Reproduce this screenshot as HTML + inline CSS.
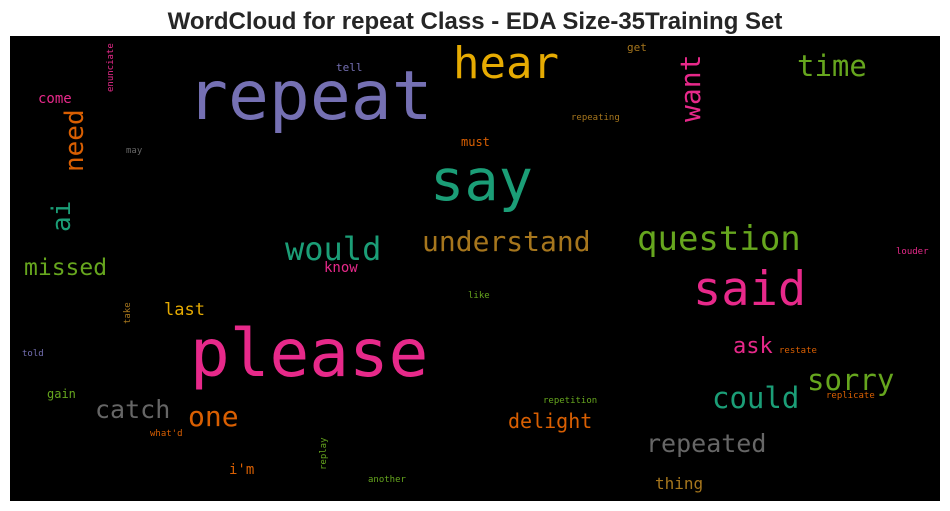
<!DOCTYPE html>
<html><head><meta charset="utf-8"><style>
html,body{margin:0;padding:0;background:#fff;width:950px;height:511px;overflow:hidden}
svg{display:block}
</style></head><body>
<svg id="chart" width="950" height="511" viewBox="0 0 950 511" xmlns="http://www.w3.org/2000/svg">
<text x="475" y="29" text-anchor="middle" font-family="Liberation Sans, sans-serif" font-weight="bold" font-size="24" fill="#262626">WordCloud for repeat Class - EDA Size-35Training Set</text>
<rect x="10" y="36" width="930" height="465" fill="#000"/>
<g id="words"></g>
</svg>
<script>
// word data
const words = ["repeat","please","say","hear","time","want","question","said","understand","would","missed","need","ai","come","enunciate","may","tell","get","repeating","must","know","like","louder","last","take","told","gain","catch","one","what'd","i'm","replay","another","ask","restate","sorry","could","replicate","repetition","delight","repeated","thing"];
const sizes = [68,66,57,44,29,28,34,47,28,32,23,26,26,14,9,9,11,11,9,12,14,9,9,17,9,9,12,25,28,9,14,9,9,22,9,29,29,9,9,20,25,16];
const colors = ["#7570b3","#e7298a","#1b9e77","#e6ab02","#66a61e","#e7298a","#66a61e","#e7298a","#a6761d","#1b9e77","#66a61e","#d95f02","#1b9e77","#e7298a","#e7298a","#666666","#7570b3","#a6761d","#a6761d","#d95f02","#e7298a","#66a61e","#e7298a","#e6ab02","#a6761d","#7570b3","#66a61e","#666666","#d95f02","#d95f02","#d95f02","#66a61e","#66a61e","#e7298a","#d95f02","#66a61e","#1b9e77","#d95f02","#66a61e","#d95f02","#666666","#a6761d"];
const vertical = [0,0,0,0,0,1,0,0,0,0,0,1,1,0,1,0,0,0,0,0,0,0,0,0,1,0,0,0,0,0,0,1,0,0,0,0,0,0,0,0,0,0];
// layout (anchor points from the cloud layout)
const layout = [[187,119],[190,376],[430,200],[453,78],[797,76],[700,122],[637,250],[693,305],[422,251],[285,260],[24,275],[83,172],[70,232],[38,103],[113,92],[126,153],[336,71],[627,51],[571,120],[461,146],[324,272],[468,298],[896,254],[164,315],[130,324],[22,356],[47,398],[95,418],[188,426],[150,436],[229,474],[326,470],[368,482],[733,353],[779,353],[807,390],[712,408],[826,398],[543,403],[508,428],[646,452],[655,489]];
const g = document.getElementById('words');
const NS = "http://www.w3.org/2000/svg";
words.forEach((w,i)=>{
  const t = document.createElementNS(NS,'text');
  const [x,y] = layout[i];
  t.setAttribute('x', x);
  t.setAttribute('y', y);
  t.setAttribute('font-family','DejaVu Sans Mono, Liberation Mono, monospace');
  t.setAttribute('font-size', sizes[i]);
  t.setAttribute('fill', colors[i]);
  if (vertical[i]) t.setAttribute('transform', 'rotate(-90 '+x+' '+y+')');
  
  
  t.textContent = w;
  g.appendChild(t);
});
</script>
</body></html>
